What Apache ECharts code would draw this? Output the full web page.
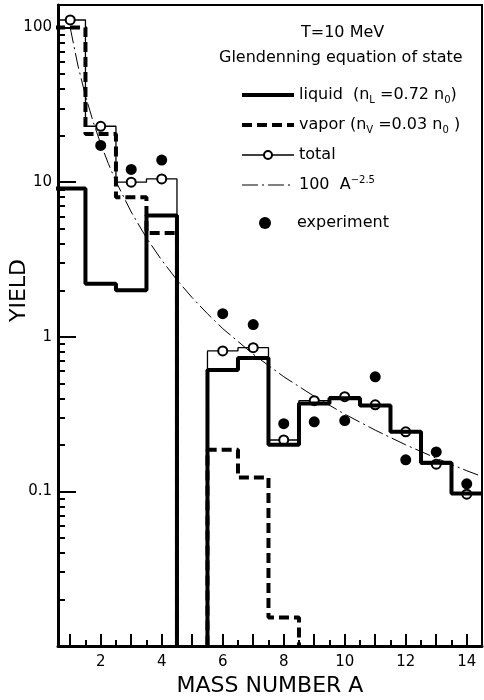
<!DOCTYPE html>
<html><head><meta charset="utf-8">
<script src="https://cdn.jsdelivr.net/npm/echarts@6/dist/echarts.min.js"></script>
<style>html,body{margin:0;padding:0;background:#fff}#c{width:484px;height:700px}</style>
</head><body><div id="c"></div>
<script>
// ---- data ----
const massNumbers = [1,2,3,4,5,6,7,8,9,10,11,12,13,14];
const liquid     = [9.1, 2.2, 2.0, 6.1, 0, 0.61, 0.73, 0.20, 0.37, 0.40, 0.36, 0.243, 0.153, 0.097];
const vapor      = [100, 20.5, 8.0, 4.7, 0, 0.186, 0.123, 0.0153, 0, 0, 0, 0, 0, 0];
const total      = [112, 23, 10.0, 10.5, 0, 0.81, 0.85, 0.215, 0.386, 0.41, 0.363, 0.243, 0.150, 0.096];
const experiment = [null, 17.3, 12.1, 13.9, null, 1.41, 1.2, 0.274, 0.282, 0.287, 0.551, 0.16, 0.18, 0.112];
const powerA = [1, 1.25, 1.5, 1.75, 2, 2.25, 2.5, 3, 3.5, 4, 4.5, 5, 5.5, 6, 7, 8, 9, 10, 11, 12, 13, 14, 14.5];
const powerY = [100, 57.2, 36.3, 24.7, 17.7, 13.2, 10.1, 6.42, 4.36, 3.13, 2.33, 1.79, 1.41, 1.13, 0.771, 0.552, 0.412, 0.316, 0.249, 0.200, 0.164, 0.136, 0.125];
const xLabelValues = [2,4,6,8,10,12,14];
const yLabelValues = [0.1, 1, 10, 100];
const yLabelText   = ['0.1', '1', '10', '100'];

const FONT = 'DejaVu Sans';
const FLOOR = 0.006; // below axis minimum: bins with no yield drop off the plot
const Y_MIN = 0.01, Y_MAX = 140;

function stepData(values, withCenter) {
  const pts = [];
  massNumbers.forEach((a, i) => {
    const v = values[i] > 0 ? values[i] : FLOOR;
    pts.push({value: [a - 0.5, v], symbol: 'none'});
    if (withCenter) pts.push(values[i] > 0 ? {value: [a, v]} : {value: [a, v], symbol: 'none'});
    pts.push({value: [a + 0.5, v], symbol: 'none'});
  });
  return pts;
}
const expData = massNumbers.map((a, i) => experiment[i] == null ? null : [a, experiment[i]]).filter(Boolean);
const powerData = powerA.map((a, i) => [a, powerY[i]]);
const binEdges = massNumbers.map(a => a + 0.5);
const yMinorTicks = [0.01, 0.1, 1, 10].flatMap(d => [2,3,4,5,6,7,8,9].map(k => +(k * d).toPrecision(3)));

const legendText = {
  liquid: '{t|liquid  (n}{sub|L}{t| =0.72 n}{sub|0}{t|)}',
  vapor: '{t|vapor (n}{sub|V}{t| =0.03 n}{sub|0}{t| )}',
  total: '{t|total}',
  power: '{t|100  A}{sup|−2.5}',
  experiment: '{te|experiment}'
};
const legendRich = {
  t: {fontSize: 16, fontFamily: FONT, color: '#000', lineHeight: 20},
  te: {fontSize: 16, fontFamily: FONT, color: '#000', lineHeight: 20, padding: [0, 0, 0, 21]},
  sub: {fontSize: 10, fontFamily: FONT, color: '#000', lineHeight: 10, verticalAlign: 'bottom'},
  sup: {fontSize: 10, fontFamily: FONT, color: '#000', lineHeight: 10, verticalAlign: 'top'}
};
const hideSym = {opacity: 0};

const chart = echarts.init(document.getElementById('c'), null, {renderer: 'canvas'});
chart.setOption({
  animation: false,
  backgroundColor: '#fff',
  textStyle: {fontFamily: FONT, color: '#000'},
  title: [
    {text: 'T=10 MeV', left: 301, top: 25, padding: 0, textStyle: {fontSize: 16, fontWeight: 'normal', fontFamily: FONT, color: '#000'}},
    {text: 'Glendenning equation of state', left: 219, top: 50, padding: 0, textStyle: {fontSize: 16, fontWeight: 'normal', fontFamily: FONT, color: '#000'}}
  ],
  legend: [
    {data: [
       {name: 'liquid', itemStyle: hideSym, lineStyle: {width: 4, type: 'solid'}},
       {name: 'vapor', itemStyle: hideSym, lineStyle: {width: 4, type: [10, 5]}},
       {name: 'total', lineStyle: {width: 1.3}},
       {name: 'power', itemStyle: hideSym, lineStyle: {width: 1, type: [16, 4, 2, 4]}}],
     orient: 'vertical', left: 240, top: 87, padding: 0,
     itemWidth: 52, itemHeight: 10, itemGap: 12, selectedMode: false,
     formatter: n => legendText[n], textStyle: {rich: legendRich}},
    {data: ['experiment'], orient: 'vertical', left: 259, top: 215, padding: 0,
     itemWidth: 12, itemHeight: 12, selectedMode: false,
     formatter: n => legendText[n], textStyle: {rich: legendRich}}
  ],
  grid: {left: 58, right: 2, top: 5, bottom: 54, containLabel: false, outerBoundsMode: 'none',
         show: true, borderColor: '#000', borderWidth: 2, backgroundColor: 'transparent'},
  xAxis: [
    {type: 'value', min: 0.6, max: 14.5, position: 'bottom',
     name: 'MASS NUMBER A', nameLocation: 'middle', nameGap: 29,
     nameTextStyle: {fontSize: 22, fontFamily: FONT, color: '#000'},
     axisLine: {show: true, lineStyle: {color: '#000', width: 3}},
     axisTick: {show: true, inside: true, length: 12, customValues: massNumbers, lineStyle: {color: '#000', width: 2}},
     axisLabel: {customValues: xLabelValues, margin: 9, fontSize: 15, fontFamily: FONT, color: '#000'},
     splitLine: {show: false}},
    {type: 'value', min: 0.6, max: 14.5, position: 'bottom', offset: 0,
     axisLine: {show: false},
     axisTick: {show: true, inside: true, length: 6, customValues: binEdges, lineStyle: {color: '#000', width: 2}},
     axisLabel: {show: false}, splitLine: {show: false}}
  ],
  yAxis: [
    {type: 'log', min: Y_MIN, max: Y_MAX, position: 'left',
     name: 'YIELD', nameLocation: 'middle', nameGap: 28, nameRotate: 90, nameMoveOverlap: false,
     nameTextStyle: {fontSize: 22, fontFamily: FONT, color: '#000', padding: [0, 0, 0, 70]},
     axisLine: {show: true, lineStyle: {color: '#000', width: 3}},
     axisTick: {show: true, inside: true, length: 18, lineStyle: {color: '#000', width: 2}},
     axisLabel: {margin: 6, fontSize: 15, fontFamily: FONT, color: '#000',
       formatter: v => { const k = yLabelValues.findIndex(t => Math.abs(v / t - 1) < 1e-6); return k < 0 ? '' : yLabelText[k]; }},
     splitLine: {show: false}},
    {type: 'log', min: Y_MIN, max: Y_MAX, position: 'left', offset: 0,
     axisLine: {show: false},
     axisTick: {show: true, inside: true, length: 7, customValues: yMinorTicks, lineStyle: {color: '#000', width: 2}},
     axisLabel: {show: false}, splitLine: {show: false}}
  ],
  series: [
    {name: 'total', type: 'line', data: stepData(total, true), z: 2,
     symbol: 'emptyCircle', symbolSize: 9, showAllSymbol: true,
     itemStyle: {color: '#000', borderWidth: 1.3},
     lineStyle: {color: '#000', width: 1.3}},
    {name: 'vapor', type: 'line', data: stepData(vapor, false), z: 3, symbol: 'none',
     lineStyle: {color: '#000', width: 4, type: [10, 5]}, itemStyle: {color: '#000'}},
    {name: 'liquid', type: 'line', data: stepData(liquid, false), z: 4, symbol: 'none',
     lineStyle: {color: '#000', width: 4}, itemStyle: {color: '#000'}},
    {name: 'power', type: 'line', data: powerData, z: 5, symbol: 'none', smooth: false,
     lineStyle: {color: '#000', width: 1, type: [16, 4, 2, 4]}, itemStyle: {color: '#000'}},
    {name: 'experiment', type: 'scatter', data: expData, z: 6, symbol: 'circle', symbolSize: 11,
     itemStyle: {color: '#000', opacity: 1}}
  ]
});
</script></body></html>
